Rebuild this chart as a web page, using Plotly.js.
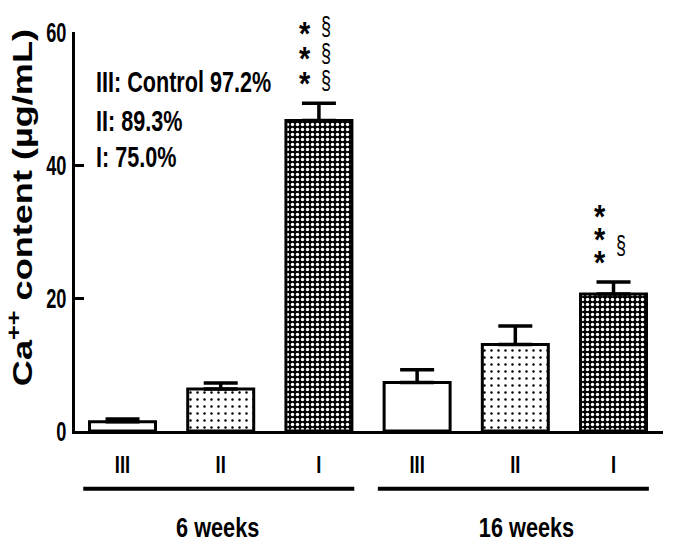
<!DOCTYPE html>
<html>
<head>
<meta charset="utf-8">
<script src="https://cdn.plot.ly/plotly-3.0.1.min.js"></script>
<style>html,body{margin:0;padding:0;background:#fff;}#chart{width:679px;height:552px;}</style>
</head>
<body>
<div id="chart"></div>
<script>
// ---- data ----
const groups = ["6 weeks", "16 weeks"];
const treatments = ["III", "II", "I"];
const tickLabels = ["III", "II", "I", "III", "II", "I"];
const values = [1.4, 6.3, 46.7, 7.3, 13.0, 20.6];
const errors = [0.4, 0.9, 2.6, 1.9, 2.8, 1.8];
const legendLines = ["III: Control 97.2%", "II: 89.3%", "I: 75.0%"];
const starMarks = [null, null, ["*", "*", "*"], null, null, ["*", "*", "*"]];
const sectMarks = [null, null, ["§", "§", "§"], null, null, ["§"]];

// ---- styles ----
const SANS = "Liberation Sans, Arial, Helvetica, sans-serif";
const idx = values.map((_, i) => i);
const patternFor = {
  "III": {color: "#ffffff", pattern: {shape: ""}},
  "II": {color: "#ffffff", pattern: {shape: ".", bgcolor: "#ffffff", fgcolor: "#000000", size: 7, solidity: 0.1, fillmode: "replace"}},
  "I": {color: "#000000", pattern: {shape: ".", bgcolor: "#000000", fgcolor: "#ffffff", size: 5, solidity: 0.38, fillmode: "replace"}}
};

const traces = treatments.map(t => {
  const sel = idx.filter(i => tickLabels[i] === t);
  return {
    type: "bar",
    name: t,
    x: sel,
    y: sel.map(i => values[i]),
    width: 0.672,
    marker: Object.assign({line: {color: "#000", width: 3}}, patternFor[t]),
    error_y: {type: "data", array: sel.map(i => errors[i]), arrayminus: sel.map(() => 0), symmetric: false,
              color: "#000", thickness: 3.5, width: 17},
    cliponaxis: false,
    hoverinfo: "none"
  };
});

const annotations = [];
const annSx = [];
function addAnn(a, sx) { annotations.push(a); annSx.push(sx); }

// legend text block
const legendY = [0.875, 0.779, 0.687];
legendLines.forEach((t, i) => addAnn({
  text: t, xref: "paper", yref: "paper", x: 0.033, y: legendY[i],
  xanchor: "left", yanchor: "middle", align: "left", showarrow: false,
  font: {family: SANS, size: 30, color: "#000", weight: "bold"}
}, 0.72));
// significance marks
idx.forEach(i => {
  const top = values[i] + errors[i];
  const step = i === 2 ? 25 : 23;
  if (starMarks[i]) starMarks[i].forEach((s, r) => addAnn({
    text: s, x: i, y: top, xref: "x", yref: "y", xshift: -14, yshift: 20 + r * step,
    xanchor: "center", yanchor: "middle", showarrow: false,
    font: {family: SANS, size: 34, color: "#000", weight: "bold"}
  }, 0.85));
  if (sectMarks[i]) sectMarks[i].forEach((s, r) => addAnn({
    text: s, x: i, y: top, xref: "x", yref: "y", xshift: 7,
    yshift: sectMarks[i].length === 1 ? 37 : 23 + r * 27,
    xanchor: "center", yanchor: "middle", showarrow: false,
    font: {family: SANS, size: 25, color: "#000"}
  }, 0.72));
});
// group labels
const shapes = [];
const groupLabelShift = [-3, 11];
groups.forEach((g, gi) => {
  const start = gi * treatments.length, end = start + treatments.length - 1;
  shapes.push({type: "line", xref: "x", yref: "paper", x0: start - 0.40, x1: end + 0.36,
               y0: -0.145, y1: -0.145, line: {color: "#000", width: 4}});
  addAnn({text: g, xref: "x", yref: "paper", x: (start + end) / 2, xshift: groupLabelShift[gi], y: -0.243,
    xanchor: "center", yanchor: "middle", showarrow: false,
    font: {family: SANS, size: 28, color: "#000", weight: "bold"}}, 0.775);
});
// y-axis title
addAnn({text: "Ca<sup>++</sup> content (µg/mL)", xref: "paper", yref: "paper",
  x: -0.092, y: 0.561, xanchor: "center", yanchor: "middle", textangle: -90, showarrow: false,
  font: {family: SANS, size: 28, color: "#000", weight: "bold"}}, 1.29);

const layout = {
  width: 679, height: 552,
  margin: {l: 75, r: 16, t: 32, b: 121},
  paper_bgcolor: "#fff", plot_bgcolor: "#fff",
  showlegend: false,
  barmode: "overlay",
  xaxis: {range: [-0.484, 5.504], tickvals: idx, ticktext: tickLabels, ticks: "",
          showgrid: false, zeroline: false, showline: true, linecolor: "#000", linewidth: 3,
          ticklabelstandoff: 11,
          tickfont: {family: SANS, size: 23, color: "#000", weight: "bold"}},
  yaxis: {range: [0, 60], tickvals: [0, 20, 40, 60], ticks: "inside", ticklen: 9, tickwidth: 3,
          tickcolor: "#000", showgrid: false, zeroline: false, showline: true, linecolor: "#000",
          linewidth: 3, tickfont: {family: SANS, size: 28, color: "#000", weight: "bold"}},
  annotations: annotations,
  shapes: shapes
};

function squeeze(el, sx) {
  const x = parseFloat(el.getAttribute("x")) || 0;
  const y = parseFloat(el.getAttribute("y")) || 0;
  const tr = el.getAttribute("transform") || "";
  el.setAttribute("transform", tr + " translate(" + x + "," + y + ") scale(" + sx + ",1) translate(" + (-x) + "," + (-y) + ")");
}

Plotly.newPlot("chart", traces, layout, {displayModeBar: false, staticPlot: true}).then(gd => {
  gd.querySelectorAll("g.xtick text").forEach(t => squeeze(t, 0.8));
  gd.querySelectorAll("g.ytick text").forEach(t => squeeze(t, 0.65));
  annSx.forEach((sx, i) => {
    gd.querySelectorAll('g.annotation[data-index="' + i + '"] text.annotation-text').forEach(t => squeeze(t, sx));
  });
});
</script>
</body>
</html>
